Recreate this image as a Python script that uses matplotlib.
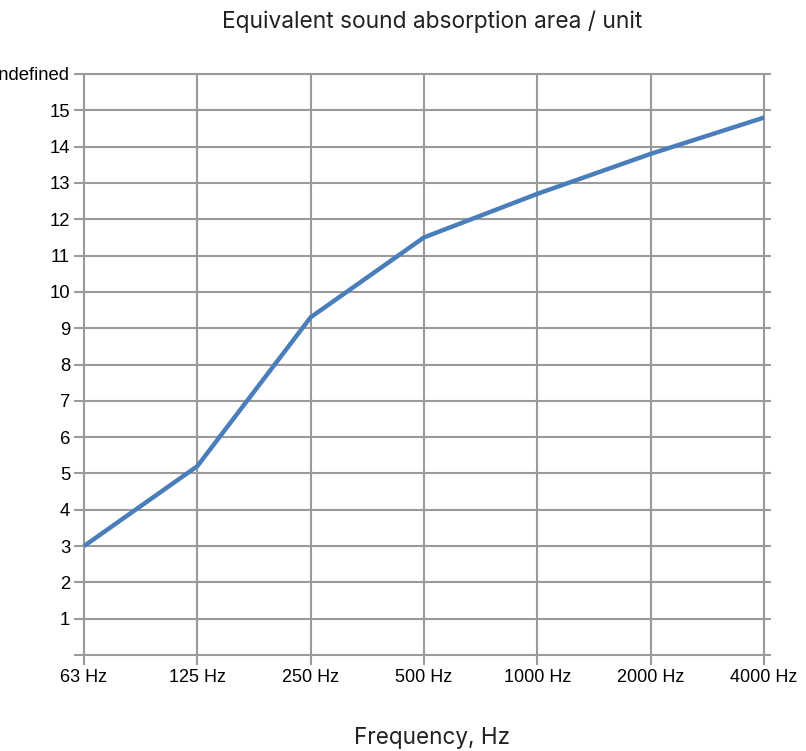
import matplotlib.pyplot as plt

freqs = ['63 Hz', '125 Hz', '250 Hz', '500 Hz', '1000 Hz', '2000 Hz', '4000 Hz']
area = [3.0, 5.2, 9.3, 11.5, 12.7, 13.8, 14.8]
yticks = list(range(0, 17))
ylabels = [''] + [str(v) for v in range(1, 16)] + ['undefined']

grid_c = '#9a9a9a'

fig = plt.figure(figsize=(8.06, 7.51), dpi=100)
ax = fig.add_axes([84/806, 96/751, 680/806, 581/751])

x = list(range(len(freqs)))
ax.set_xlim(0, 6)
ax.set_ylim(0, 16)

# grid lines (horizontal ones run a bit past the right edge)
ax.hlines(yticks, 0, 6.062, color=grid_c, lw=1.5, clip_on=False, zorder=1)
ax.vlines(x, 0, 16, color=grid_c, lw=1.5, clip_on=False, zorder=1)

ax.plot(x, area, color='#4a7ebb', lw=3.2, solid_capstyle='butt', zorder=3, clip_on=False)

for s in ax.spines.values():
    s.set_visible(False)

ax.set_xticks(x)
ax.set_xticklabels(freqs, fontfamily='Liberation Sans', fontsize=13)
ax.set_yticks(yticks)
ax.set_yticklabels(ylabels, fontfamily='Liberation Sans', fontsize=13.3)
ax.tick_params(axis='both', color=grid_c, width=1.5, length=7, pad=3)

fig.text(432/806, 1 - 22/751, 'Equivalent sound absorption area / unit',
         ha='center', va='center', fontfamily='Inter', fontsize=16.4, color='#222222')
fig.text(432/806, 1 - 738/751, 'Frequency, Hz',
         ha='center', va='center', fontfamily='Inter', fontsize=16.2, color='#222222')

fig.savefig('out.png', dpi=100)
